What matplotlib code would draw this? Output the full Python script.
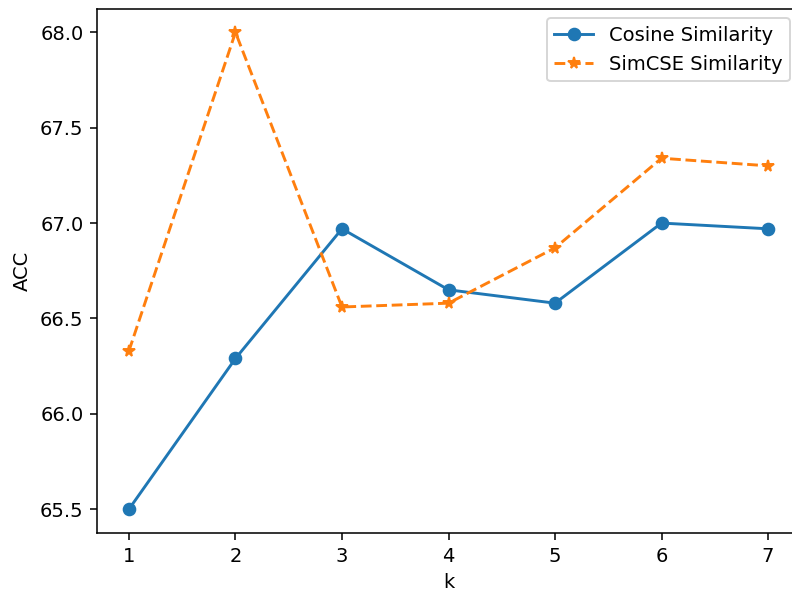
import matplotlib
matplotlib.use("Agg")
import matplotlib.pyplot as plt

k = [1, 2, 3, 4, 5, 6, 7]
cosine = [65.50, 66.29, 66.97, 66.65, 66.58, 67.00, 66.97]
simcse = [66.33, 68.00, 66.56, 66.58, 66.87, 67.34, 67.30]

dpi = 140
fig = plt.figure(figsize=(792 / dpi, 594 / dpi), dpi=dpi)
ax = fig.add_axes([97 / 792, 1 - 533 / 594, (800 - 97) / 792, (533 - 8.5) / 594])
ax.plot(k, cosine, marker='o', linestyle='-', label='Cosine Similarity')
ax.plot(k, simcse, marker='*', linestyle='--', label='SimCSE Similarity')
ax.set_xlabel('k')
ax.set_ylabel('ACC')
ax.legend()
fig.savefig('out.png', dpi=dpi)
